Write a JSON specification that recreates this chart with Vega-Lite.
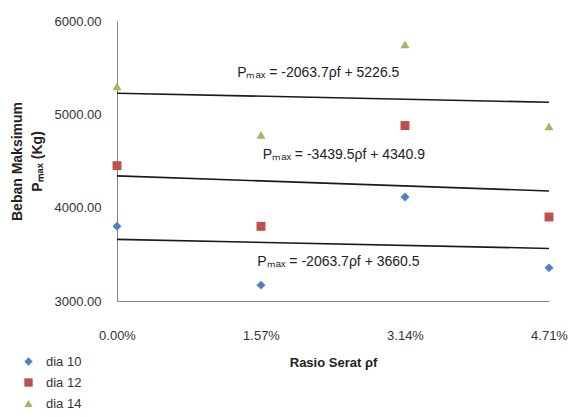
{
  "$schema": "https://vega.github.io/schema/vega-lite/v6.json",
  "autosize": {"type": "none"},
  "width": 432,
  "height": 280,
  "padding": {"left": 117, "top": 21, "right": 19, "bottom": 116},
  "background": "white",
  "config": {
    "view": {"stroke": null},
    "font": "Liberation Sans",
    "axis": {"labelFont": "Liberation Sans", "titleFont": "Liberation Sans", "labelColor": "#333333", "titleColor": "#222222"}
  },
  "datasets": {
    "pts": [
      {"rasio": 0, "beban": 3800, "seri": "dia 10"},
      {"rasio": 0.0157, "beban": 3170, "seri": "dia 10"},
      {"rasio": 0.0314, "beban": 4115, "seri": "dia 10"},
      {"rasio": 0.0471, "beban": 3355, "seri": "dia 10"},
      {"rasio": 0, "beban": 4450, "seri": "dia 12"},
      {"rasio": 0.0157, "beban": 3800, "seri": "dia 12"},
      {"rasio": 0.0314, "beban": 4880, "seri": "dia 12"},
      {"rasio": 0.0471, "beban": 3900, "seri": "dia 12"},
      {"rasio": 0, "beban": 5300, "seri": "dia 14"},
      {"rasio": 0.0157, "beban": 4780, "seri": "dia 14"},
      {"rasio": 0.0314, "beban": 5750, "seri": "dia 14"},
      {"rasio": 0.0471, "beban": 4870, "seri": "dia 14"}
    ],
    "trend": [
      {"rasio": 0, "beban": 5226.5, "garis": "t14"},
      {"rasio": 0.0471, "beban": 5129.3, "garis": "t14"},
      {"rasio": 0, "beban": 4340.9, "garis": "t12"},
      {"rasio": 0.0471, "beban": 4178.9, "garis": "t12"},
      {"rasio": 0, "beban": 3660.5, "garis": "t10"},
      {"rasio": 0.0471, "beban": 3563.3, "garis": "t10"}
    ],
    "eq": [
      {"rasio": 0.0131, "beban": 5443, "teks": "Pₘₐₓ = -2063.7ρf + 5226.5"},
      {"rasio": 0.0159, "beban": 4564, "teks": "Pₘₐₓ = -3439.5ρf + 4340.9"},
      {"rasio": 0.0153, "beban": 3418, "teks": "Pₘₐₓ = -2063.7ρf + 3660.5"}
    ]
  },
  "layer": [
    {
      "data": {"name": "trend"},
      "mark": {"type": "line", "color": "#1a1a1a", "strokeWidth": 1.6},
      "encoding": {
        "x": {"field": "rasio", "type": "quantitative", "scale": {"domain": [0, 0.0471], "nice": false, "zero": false},
          "axis": {"values": [0, 0.0157, 0.0314, 0.0471], "format": ".2%", "labelFlush": false, "labelOverlap": false, "grid": false, "ticks": false, "domainColor": "#868686", "labelPadding": 28, "labelFontSize": 13, "title": "Rasio Serat ρf", "titleFontSize": 13, "titleFontWeight": "bold", "titlePadding": 14}},
        "y": {"field": "beban", "type": "quantitative", "scale": {"domain": [3000, 6000], "nice": false, "zero": false},
          "axis": {"values": [3000, 4000, 5000, 6000], "format": ".2f", "grid": false, "ticks": false, "domainColor": "#868686", "labelPadding": 16, "labelFontSize": 13, "title": ["Beban Maksimum", "Pₘₐₓ (Kg)"], "titleFontSize": 14, "titleFontWeight": "bold", "titleLineHeight": 20, "titlePadding": 10}},
        "detail": {"field": "garis"}
      }
    },
    {
      "data": {"name": "pts"},
      "mark": {"type": "point", "filled": true, "opacity": 1, "size": 80},
      "encoding": {
        "x": {"field": "rasio", "type": "quantitative"},
        "y": {"field": "beban", "type": "quantitative"},
        "color": {"field": "seri", "type": "nominal", "scale": {"domain": ["dia 10", "dia 12", "dia 14"], "range": ["#4F81BD", "#C0504D", "#9BBB59"]},
          "legend": {"title": null, "orient": "none", "legendX": -95, "legendY": 334, "labelFontSize": 13, "labelColor": "#333333", "symbolSize": 70, "rowPadding": 7, "labelOffset": 11}},
        "shape": {"field": "seri", "type": "nominal", "scale": {"domain": ["dia 10", "dia 12", "dia 14"], "range": ["diamond", "square", "triangle-up"]}}
      }
    },
    {
      "data": {"name": "eq"},
      "mark": {"type": "text", "align": "left", "baseline": "middle", "fontSize": 14, "color": "#222222"},
      "encoding": {
        "x": {"field": "rasio", "type": "quantitative"},
        "y": {"field": "beban", "type": "quantitative"},
        "text": {"field": "teks"}
      }
    }
  ]
}
